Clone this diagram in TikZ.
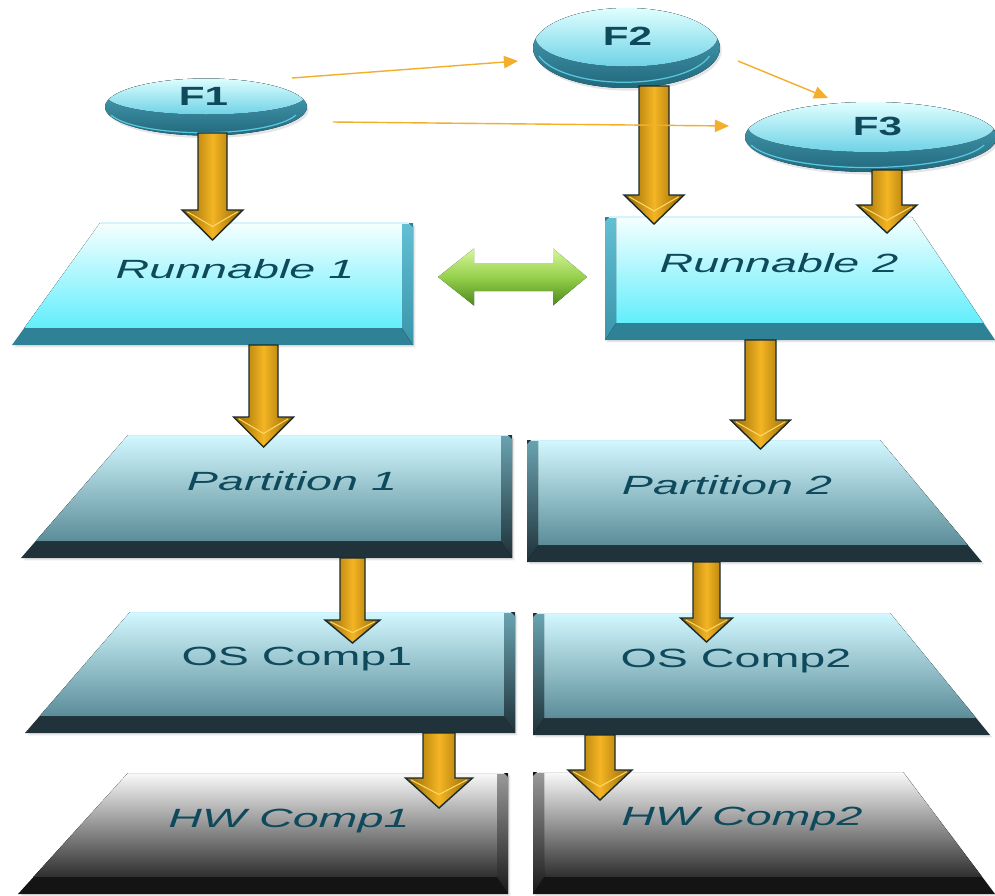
\documentclass[tikz,border=0pt]{standalone}
\usepackage{fontspec}
\setmainfont{Liberation Sans}
\usepackage{graphicx}
\usetikzlibrary{calc,arrows.meta,shadows}

\definecolor{txt}{HTML}{0E4A5C}
\definecolor{goldedge}{HTML}{8E6200}
\definecolor{goldmid}{HTML}{F4B524}
\definecolor{goldline}{HTML}{1A2A2C}
\definecolor{goldlight}{HTML}{FFD766}
\definecolor{thinorange}{HTML}{F3AE2C}

\def\px{0.02cm}

% slab with slanted left side, bevel on the right and at the bottom
\newcommand\leftslab[7]{%
  \pgfmathsetmacro\frc{(#5-17-#4)/(#5-#4)}%
  \coordinate (#1-tl) at (#2,#4);
  \coordinate (#1-bl) at (#6,#5);
  \fill[#7 band, slabshadow] (#2,#4) -- (#3,#4) -- (#3,#5) -- (#6,#5) -- cycle;
  \fill[#7 face] (#2,#4) -- (#3-11,#4) -- (#3-11,#5-17) -- ($(#1-tl)!\frc!(#1-bl)$) -- cycle;
  \fill[#7 side] (#3-11,#4) -- (#3-4,#4) -- (#3,#4+4) -- (#3,#5) -- (#3-11,#5-17) -- cycle;
  \draw[#7 edge] (#2,#4) -- (#3-4,#4);
}
% slab with slanted right side, bevel on the left and at the bottom
\newcommand\rightslab[7]{%
  \pgfmathsetmacro\frc{(#5-17-#4)/(#5-#4)}%
  \coordinate (#1-tr) at (#3,#4);
  \coordinate (#1-br) at (#6,#5);
  \fill[#7 band, slabshadow] (#2,#4) -- (#3,#4) -- (#6,#5) -- (#2,#5) -- cycle;
  \fill[#7 face] (#2+11,#4) -- (#3,#4) -- ($(#1-tr)!\frc!(#1-br)$) -- (#2+11,#5-17) -- cycle;
  \fill[#7 side] (#2,#4+4) -- (#2+4,#4) -- (#2+11,#4) -- (#2+11,#5-17) -- (#2,#5) -- cycle;
  \draw[#7 edge] (#2+4,#4) -- (#3,#4);
}
% bevelled disk: centre x, centre y, x radius, y radius, face centre y, face x radius, face y radius
\newcommand\disk[7]{%
  \fill[disk rim, diskshadow] (#1,#2) ellipse [x radius=#3*\px, y radius=#4*\px];
  \draw[disk glow] (#1-#3+6,#2+8) arc [start angle=195, end angle=345, x radius=#3*\px-3pt, y radius=#4*\px-2.6pt];
  \begin{scope}
    \clip (#1,#2) ellipse [x radius=#3*\px, y radius=#4*\px];
    \fill[disk face] (#1,#5) ellipse [x radius=#6*\px, y radius=#7*\px];
  \end{scope}
}
% vertical block arrow between two named points
\newcommand\goldarrow[5]{%
  \path[goldbody] let \p1=(#1), \p2=(#2) in
    (\x1-#3*\px,\y1) -- (\x1+#3*\px,\y1) -- (\x1+#3*\px,\y2+#5*\px)
    -- (\x1+#4*\px,\y2+#5*\px) -- (\x1,\y2) -- (\x1-#4*\px,\y2+#5*\px)
    -- (\x1-#3*\px,\y2+#5*\px) -- cycle;
  \draw[goldlight, line width=0.6pt] let \p1=(#1), \p2=(#2) in
    (\x1-#4*\px+3pt,\y2+#5*\px-1pt) -- (\x1,\y2+0.45*#5*\px) -- (\x1+#4*\px-3pt,\y2+#5*\px-1pt);
}
% outline of the double block arrow between two named points
\newcommand\dblpath[2]{%
  let \p1=(#1), \p2=(#2) in
  (\x1,\y1) -- (\x1+36*\px,\y1+28.5*\px) -- (\x1+36*\px,\y1+14*\px) -- (\x2-34*\px,\y1+14*\px)
  -- (\x2-34*\px,\y1+28.5*\px) -- (\x2,\y2) -- (\x2-34*\px,\y1-28.5*\px) -- (\x2-34*\px,\y1-14*\px)
  -- (\x1+36*\px,\y1-14*\px) -- (\x1+36*\px,\y1-28.5*\px) -- cycle}

\tikzset{
  slabshadow/.style={drop shadow={shadow xshift=1.4pt, shadow yshift=-1.4pt, opacity=0.18}},
  diskshadow/.style={drop shadow={shadow xshift=1pt, shadow yshift=-1.5pt, opacity=0.2}},
  run face/.style={top color=cyan!4!white, bottom color={rgb,255:red,98;green,238;blue,252}},
  run band/.style={fill={rgb,255:red,47;green,129;blue,150}},
  run side/.style={top color={rgb,255:red,98;green,191;blue,212}, bottom color={rgb,255:red,58;green,149;blue,170}},
  run edge/.style={draw=white!85!cyan, line width=0.6pt},
  part face/.style={top color={rgb,255:red,211;green,248;blue,255}, bottom color={rgb,255:red,91;green,141;blue,153}},
  part band/.style={fill={rgb,255:red,33;green,51;blue,58}},
  part side/.style={top color={rgb,255:red,106;green,163;blue,177}, bottom color={rgb,255:red,31;green,49;blue,56}},
  part edge/.style={draw=white!80!cyan, line width=0.5pt},
  hw face/.style={top color=white!98!black, bottom color=black!82},
  hw band/.style={fill=black!92},
  hw side/.style={top color=black!40, bottom color=black!90},
  hw edge/.style={draw=white!90!black, line width=0.5pt},
  disk rim/.style={top color={rgb,255:red,80;green,170;blue,192}, bottom color={rgb,255:red,34;green,104;blue,124}},
  disk glow/.style={draw={rgb,255:red,88;green,200;blue,222}, line width=0.7pt},
  disk face/.style={top color=white!88!cyan, bottom color={rgb,255:red,110;green,210;blue,230}},
  goldbody/.style={left color=goldedge, right color=goldedge, middle color=goldmid,
    draw=goldline, line width=0.8pt, line join=miter},
  thinarrow/.style={draw=thinorange, line width=0.8pt, -{Triangle[length=8pt,width=7pt]}},
  lbl/.style={font=\fontsize{15}{18}\selectfont, text=txt, anchor=base, inner sep=0pt},
  flbl/.style={font=\fontsize{15}{18}\selectfont\bfseries, text=txt, anchor=base, inner sep=0pt},
}

\begin{document}
\begin{tikzpicture}[x=0.02cm, y=-0.02cm]
\useasboundingbox (0,0) rectangle (995,896);
\fill[white] (0,0) rectangle (995,896);

% layer slabs
\leftslab{r1}{100}{413}{223}{345}{12}{run}
\rightslab{r2}{605}{912}{217}{340}{995}{run}
\leftslab{p1}{128}{512}{435}{558}{21}{part}
\rightslab{p2}{527}{880}{440}{562}{982}{part}
\leftslab{o1}{130}{515}{612}{733}{25}{part}
\rightslab{o2}{533}{890}{613}{735}{990}{part}
\leftslab{h1}{128}{508}{773}{894}{18}{hw}
\rightslab{h2}{533}{903}{772}{894}{995}{hw}

% function disks
\disk{206}{107}{101}{28.5}{96}{99}{18.5}
\disk{626.5}{48}{93.5}{40}{37}{91}{29.5}
\disk{871}{137}{126}{35}{127}{123}{25}

% end points of the block arrows
\coordinate (a1s) at (212.5,133); \coordinate (a1e) at (212.5,240);
\coordinate (a2s) at (654,86);    \coordinate (a2e) at (654,224);
\coordinate (a3s) at (887,170);   \coordinate (a3e) at (887,233);
\coordinate (a4s) at (263.5,345); \coordinate (a4e) at (263.5,447);
\coordinate (a5s) at (760.5,340); \coordinate (a5e) at (760.5,449);
\coordinate (a6s) at (352.5,558); \coordinate (a6e) at (352.5,643);
\coordinate (a7s) at (706.5,562); \coordinate (a7e) at (706.5,642);
\coordinate (a8s) at (439,733);   \coordinate (a8e) at (439,808);
\coordinate (a9s) at (600,735);   \coordinate (a9e) at (600,800);

\goldarrow{a1s}{a1e}{14.5}{30.5}{30}
\goldarrow{a2s}{a2e}{15}{30}{29}
\goldarrow{a3s}{a3e}{15}{30}{28}
\goldarrow{a4s}{a4e}{14.5}{30}{30}
\goldarrow{a5s}{a5e}{15.5}{30}{29}
\goldarrow{a6s}{a6e}{12.5}{27.5}{23}
\goldarrow{a7s}{a7e}{13.5}{26}{24}
\goldarrow{a8s}{a8e}{16}{33.5}{30}
\goldarrow{a9s}{a9e}{15}{32}{30}

% thin data-flow arrows between the functions
\coordinate (o1s) at (292,78);  \coordinate (o1e) at (518,61);
\coordinate (o2s) at (333,122); \coordinate (o2e) at (729,126);
\coordinate (o3s) at (738,61);  \coordinate (o3e) at (828,98);
\draw[thinarrow] (o1s) -- (o1e);
\draw[thinarrow] (o2s) -- (o2e);
\draw[thinarrow] (o3s) -- (o3e);

% green double arrow between the runnables
\coordinate (gL) at (438,277);
\coordinate (gR) at (587,277);
\path[fill={rgb,255:red,14;green,42;blue,34}, xshift=1.5pt, yshift=-2.4pt] \dblpath{gL}{gR};
\path[top color={rgb,255:red,214;green,247;blue,154}, bottom color={rgb,255:red,76;green,138;blue,28},
      middle color={rgb,255:red,150;green,208;blue,76}] \dblpath{gL}{gR};

% labels
\node[flbl] (F1) at (203.5,105) {\scalebox{1.6}[1]{F1}};
\node[flbl] (F2) at (627.5,45) {\scalebox{1.6}[1]{F2}};
\node[flbl] (F3) at (877.5,135) {\scalebox{1.6}[1]{F3}};
\node[lbl] (R1) at (235,278) {\scalebox{1.77}[1]{\itshape Runnable 1}};
\node[lbl] (R2) at (779,272) {\scalebox{1.77}[1]{\itshape Runnable 2}};
\node[lbl] (P1) at (292,490) {\scalebox{1.77}[1]{\itshape Partition 1}};
\node[lbl] (P2) at (727,494) {\scalebox{1.77}[1]{\itshape Partition 2}};
\node[lbl] (O1) at (297,665) {\scalebox{1.77}[1]{OS Comp1}};
\node[lbl] (O2) at (736,667) {\scalebox{1.77}[1]{OS Comp2}};
\node[lbl] (H1) at (289,827) {\scalebox{1.77}[1]{\itshape HW Comp1}};
\node[lbl] (H2) at (742,825) {\scalebox{1.77}[1]{\itshape HW Comp2}};
\end{tikzpicture}
\end{document}
